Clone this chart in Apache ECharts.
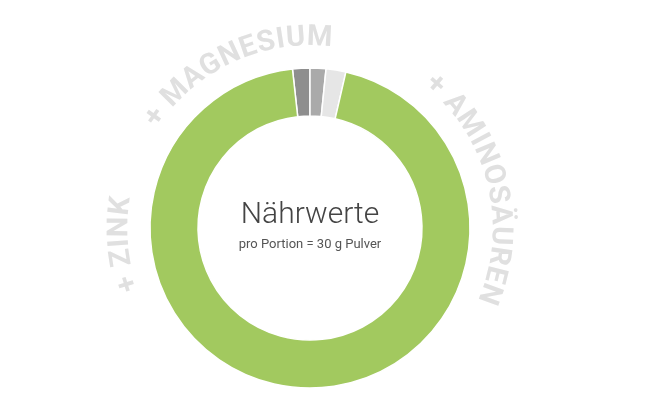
<!DOCTYPE html>
<html>
<head>
<meta charset="utf-8">
<script src="https://cdn.jsdelivr.net/npm/echarts@6/dist/echarts.min.js"></script>
<style>
  html, body { margin: 0; padding: 0; background: #fff; }
  #chart { width: 650px; height: 411px; }
</style>
</head>
<body>
<div id="chart"></div>
<script>
const sliceNames = ["Zink", "Magnesium", "Aminosäuren", "Nährstoffe"];
const sliceValues = [1.75, 1.6, 2.0, 94.65];
const sliceColors = ["#8e8e8e", "#aaaaaa", "#e6e6e6", "#a2c95f"];

const arcLabels = ["+ ZINK", "+ MAGNESIUM", "+ AMINOSÄUREN"];
const arcCenters = [185, 115, 14]; // degrees, math orientation

const title = "Nährwerte";
const subtitle = "pro Portion = 30 g Pulver";

const cx = 310;
const cy = 228;
const textRadius = 190;
const arcFont = "bold 29px Roboto";

const measure = document.createElement("canvas").getContext("2d");
measure.font = arcFont;

function arcText(str, centerDeg) {
  const spacing = 1.5;
  const widths = [...str].map((ch) => measure.measureText(ch).width + spacing);
  const total = widths.reduce((a, b) => a + b, 0);
  let theta = (centerDeg * Math.PI) / 180 + total / 2 / textRadius;
  const items = [];
  [...str].forEach((ch, i) => {
    const mid = theta - widths[i] / 2 / textRadius;
    items.push({
      type: "text",
      x: cx + textRadius * Math.cos(mid),
      y: cy - textRadius * Math.sin(mid),
      rotation: mid - Math.PI / 2,
      style: {
        text: ch,
        font: arcFont,
        fill: "#e0e0e0",
        align: "center",
        verticalAlign: "middle",
      },
    });
    theta -= widths[i] / textRadius;
  });
  return items;
}

const graphics = [];
arcLabels.forEach((label, i) => graphics.push(...arcText(label, arcCenters[i])));
graphics.push({
  type: "text",
  x: cx,
  y: 215,
  style: {
    text: title,
    font: "300 30px Roboto",
    fill: "#444",
    align: "center",
    verticalAlign: "middle",
  },
});
graphics.push({
  type: "text",
  x: cx,
  y: 245,
  style: {
    text: subtitle,
    font: "13px Roboto",
    fill: "#555",
    align: "center",
    verticalAlign: "middle",
  },
});

const chart = echarts.init(document.getElementById("chart"));
chart.setOption({
  animation: false,
  graphic: graphics,
  series: [
    {
      type: "pie",
      center: [cx, cy],
      radius: [112, 160],
      startAngle: 96.3,
      clockwise: true,
      label: { show: false },
      labelLine: { show: false },
      emphasis: { disabled: true },
      itemStyle: { borderColor: "#fff", borderWidth: 1.5 },
      data: sliceNames.map((name, i) => ({
        name,
        value: sliceValues[i],
        itemStyle: { color: sliceColors[i] },
      })),
    },
  ],
});
</script>
</body>
</html>
